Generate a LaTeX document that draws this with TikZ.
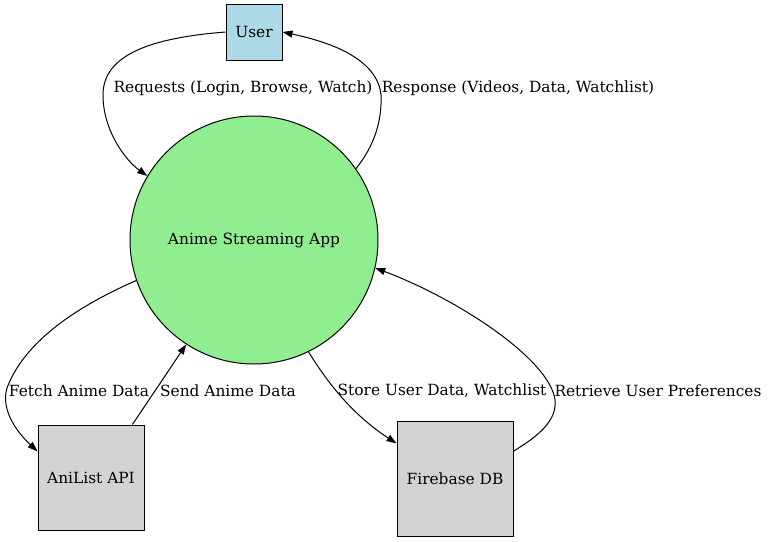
\documentclass[tikz,border=0pt]{standalone}
\usepackage{fontspec}
\setmainfont{DejaVu Serif}
\usetikzlibrary{arrows.meta}
\definecolor{userblue}{HTML}{ADD8E6}
\definecolor{appgreen}{HTML}{90EE90}
\definecolor{extgray}{HTML}{D3D3D3}
\tikzset{
  box/.style={draw, line width=1pt, inner sep=0pt},
  lbl/.style={inner sep=0pt},
  flow/.style={line width=1pt, -{Triangle[length=10pt,width=7pt]}}
}
\begin{document}
\begin{tikzpicture}[x=1pt, y=-1pt, every node/.style={font=\fontsize{15.4}{17}\selectfont}]
  \useasboundingbox (0,0) rectangle (768,541);
  % nodes
  \node[box, fill=userblue, minimum width=56pt, minimum height=56pt] (User) at (254,32) {User};
  \node[box, circle, fill=appgreen, minimum size=248pt] (App) at (254,240) {Anime Streaming App};
  \node[box, fill=extgray, minimum width=106pt, minimum height=105pt] (AniList) at (91,477.5) {AniList API};
  \node[box, fill=extgray, minimum width=116pt, minimum height=115pt] (Firebase) at (455,478.5) {Firebase DB};
  % edges
  \draw[flow] (User.west) .. controls (150,38) and (103,55) .. (103,95)
    .. controls (103,130) and (125,160) .. (App.149);
  \draw[flow] (App.35) .. controls (375,145) and (382,120) .. (381,95)
    .. controls (377,55) and (320,40) .. (User.east);
  \draw[flow] (App.199) .. controls (80,305) and (25,340) .. (7,388)
    .. controls (0,412) and (20,435) .. (AniList.154);
  \draw[flow] (AniList.52) -- (App.237);
  \draw[flow] (App.296) .. controls (320,370) and (345,410) .. (Firebase.149);
  \draw[flow] (Firebase.25) .. controls (540,435) and (557,420) .. (555,400)
    .. controls (550,360) and (460,300) .. (App.-13);
  % labels
  \node[lbl] (reqL) at (243,88) {Requests (Login, Browse, Watch)};
  \node[lbl] (resL) at (518,88) {Response (Videos, Data, Watchlist)};
  \node[lbl] (fetchL) at (79,391) {Fetch Anime Data};
  \node[lbl] (sendL) at (228,391) {Send Anime Data};
  \node[lbl] (storeL) at (442,391) {Store User Data, Watchlist};
  \node[lbl] (retrL) at (658,391) {Retrieve User Preferences};
\end{tikzpicture}
\end{document}
